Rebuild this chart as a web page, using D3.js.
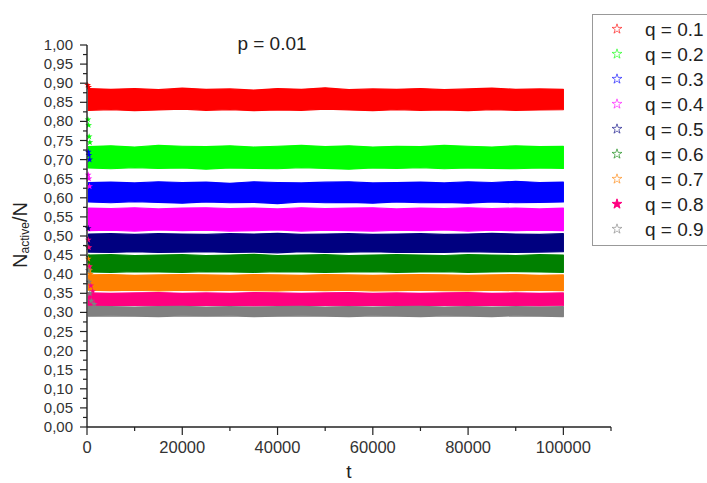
<!DOCTYPE html>
<html><head><meta charset="utf-8">
<script src="https://cdn.jsdelivr.net/npm/d3@7"></script>
<style>body{margin:0;background:#fff}svg{display:block;font-family:Arial,"Liberation Sans",sans-serif}</style>
</head><body>
<svg id="c" width="707" height="483"></svg>
<script>
const labels = ["q = 0.1","q = 0.2","q = 0.3","q = 0.4","q = 0.5","q = 0.6","q = 0.7","q = 0.8","q = 0.9"];
const colors = ["#ff0000","#00ff00","#0000ff","#ff00ff","#000080","#008000","#ff8000","#ff0080","#808080"];
const tSample = [300,5000,10000,15000,20000,25000,30000,35000,40000,45000,50000,55000,60000,65000,70000,75000,80000,85000,90000,95000,100000];
const upper01 = [0.886,0.884,0.886,0.883,0.887,0.884,0.885,0.882,0.886,0.884,0.888,0.883,0.885,0.884,0.886,0.883,0.885,0.887,0.884,0.885,0.884];
const lower01 = [0.829,0.831,0.828,0.830,0.832,0.829,0.831,0.828,0.830,0.829,0.832,0.830,0.828,0.831,0.829,0.830,0.828,0.831,0.829,0.830,0.831];
const upper02 = [0.734,0.736,0.733,0.737,0.735,0.734,0.736,0.733,0.735,0.737,0.734,0.736,0.733,0.735,0.734,0.737,0.735,0.733,0.736,0.734,0.735];
const lower02 = [0.678,0.676,0.679,0.677,0.678,0.675,0.678,0.677,0.676,0.679,0.677,0.675,0.678,0.677,0.679,0.676,0.678,0.677,0.676,0.678,0.677];
const upper03 = [0.640,0.641,0.639,0.642,0.640,0.641,0.638,0.642,0.640,0.639,0.641,0.642,0.639,0.640,0.641,0.639,0.642,0.640,0.643,0.640,0.641];
const lower03 = [0.589,0.587,0.590,0.588,0.586,0.589,0.587,0.588,0.585,0.589,0.587,0.588,0.586,0.589,0.587,0.588,0.586,0.589,0.587,0.588,0.589];
const upper04 = [0.573,0.572,0.574,0.571,0.573,0.574,0.572,0.573,0.571,0.574,0.572,0.573,0.574,0.571,0.573,0.572,0.574,0.572,0.573,0.571,0.573];
const lower04 = [0.514,0.515,0.513,0.516,0.514,0.515,0.513,0.514,0.516,0.513,0.515,0.514,0.513,0.515,0.514,0.516,0.513,0.515,0.514,0.515,0.514];
const upper05 = [0.505,0.506,0.504,0.506,0.505,0.504,0.506,0.505,0.507,0.504,0.505,0.506,0.504,0.505,0.506,0.504,0.505,0.507,0.505,0.504,0.506];
const lower05 = [0.458,0.457,0.459,0.457,0.458,0.459,0.457,0.458,0.456,0.459,0.457,0.458,0.459,0.457,0.458,0.457,0.459,0.458,0.457,0.458,0.459];
const upper06 = [0.450,0.451,0.449,0.450,0.451,0.449,0.450,0.452,0.449,0.450,0.451,0.449,0.450,0.451,0.450,0.449,0.451,0.450,0.449,0.451,0.450];
const lower06 = [0.406,0.405,0.407,0.406,0.405,0.407,0.406,0.405,0.407,0.406,0.405,0.406,0.407,0.405,0.406,0.407,0.405,0.406,0.407,0.406,0.405];
const upper07 = [0.398,0.399,0.397,0.398,0.399,0.398,0.397,0.399,0.398,0.397,0.399,0.398,0.397,0.398,0.399,0.398,0.397,0.398,0.399,0.397,0.398];
const lower07 = [0.358,0.357,0.358,0.356,0.358,0.357,0.358,0.357,0.356,0.358,0.357,0.358,0.356,0.357,0.358,0.357,0.356,0.358,0.357,0.358,0.357];
const upper08 = [0.351,0.350,0.351,0.352,0.350,0.351,0.350,0.352,0.351,0.350,0.351,0.352,0.350,0.351,0.350,0.351,0.352,0.350,0.351,0.350,0.351];
const lower08 = [0.318,0.319,0.318,0.317,0.319,0.318,0.319,0.317,0.318,0.319,0.318,0.317,0.319,0.318,0.319,0.318,0.317,0.319,0.318,0.317,0.318];
const upper09 = [0.316,0.315,0.314,0.315,0.316,0.314,0.315,0.314,0.315,0.316,0.314,0.315,0.314,0.315,0.316,0.314,0.315,0.314,0.315,0.314,0.315];
const lower09 = [0.290,0.291,0.290,0.289,0.291,0.290,0.291,0.289,0.290,0.291,0.290,0.289,0.291,0.290,0.289,0.291,0.290,0.289,0.291,0.290,0.289];
// early transient points [t, value]
const early01 = [[150,0.895],[350,0.890]];
const early02 = [[200,0.805],[350,0.790],[450,0.760],[600,0.745]];
const early03 = [[250,0.720],[400,0.712],[550,0.700]];
const early04 = [[250,0.660],[400,0.650],[550,0.630],[700,0.560]];
const early05 = [[250,0.520],[400,0.495],[600,0.485]];
const early06 = [[250,0.470],[400,0.445],[600,0.430]];
const early07 = [[250,0.440],[400,0.420],[550,0.410],[700,0.400]];
const early08 = [[250,0.490],[400,0.470],[550,0.420],[800,0.370],[1200,0.355]];
const early09 = [[250,0.410],[400,0.380],[600,0.350],[900,0.330],[1500,0.322]];
const yTicks = [0,0.05,0.10,0.15,0.20,0.25,0.30,0.35,0.40,0.45,0.50,0.55,0.60,0.65,0.70,0.75,0.80,0.85,0.90,0.95,1.00];
const xTicks = [0,20000,40000,60000,80000,100000];

const uppers=[upper01,upper02,upper03,upper04,upper05,upper06,upper07,upper08,upper09];
const lowers=[lower01,lower02,lower03,lower04,lower05,lower06,lower07,lower08,lower09];
const earlies=[early01,early02,early03,early04,early05,early06,early07,early08,early09];

const svg=d3.select("#c");
const x=d3.scaleLinear().domain([0,110000]).range([87,611]);
const y=d3.scaleLinear().domain([0,1]).range([427,45]);

// bands
const area=d3.area().x((d,i)=>x(tSample[i])).y0((d,i)=>y(d[0])).y1((d,i)=>y(d[1])).curve(d3.curveLinear);
labels.forEach((l,k)=>{
  const data=tSample.map((t,i)=>[lowers[k][i],uppers[k][i]]);
  svg.append("path").attr("d",area(data)).attr("fill",colors[k]).attr("stroke",colors[k])
    .attr("stroke-width",1.2).attr("stroke-linejoin","round");
});
const star=d3.symbol().type(d3.symbolStar);
labels.forEach((l,k)=>{
  svg.selectAll(null).data(earlies[k]).join("path")
    .attr("d",star.size(14)).attr("transform",d=>`translate(${x(d[0])},${y(d[1])})`)
    .attr("fill",colors[k]);
});

// axes
const ax=svg.append("g").attr("stroke","#222").attr("fill","none");
ax.append("line").attr("x1",x(0)).attr("x2",x(0)).attr("y1",y(1)).attr("y2",y(0)).attr("stroke-width",1.4);
ax.append("line").attr("x1",x(0)).attr("x2",x(110000)).attr("y1",y(0)).attr("y2",y(0)).attr("stroke-width",1.4);
yTicks.forEach(v=>{
  ax.append("line").attr("x1",x(0)-7).attr("x2",x(0)).attr("y1",y(v)).attr("y2",y(v)).attr("stroke-width",1.2);
  if(v<1) ax.append("line").attr("x1",x(0)-4).attr("x2",x(0)).attr("y1",y(v+0.025)).attr("y2",y(v+0.025)).attr("stroke-width",1.2);
});
d3.range(0,110001,10000).forEach(v=>{
  const major=xTicks.includes(v);
  ax.append("line").attr("x1",x(v)).attr("x2",x(v)).attr("y1",y(0)).attr("y2",y(0)+(major?8:4)).attr("stroke-width",1.2);
});
svg.selectAll(".yl").data(yTicks).join("text").attr("x",x(0)-14).attr("y",d=>y(d)+5)
  .attr("text-anchor","end").attr("font-size",15).attr("fill","#333")
  .text(d=>d3.format(".2f")(d).replace(".",","));
svg.selectAll(".xl").data(xTicks).join("text").attr("x",d=>x(d)).attr("y",453)
  .attr("text-anchor","middle").attr("font-size",16.5).attr("fill","#333").text(d=>d);

svg.append("text").attr("x",349).attr("y",478).attr("text-anchor","middle").attr("font-size",19).attr("fill","#222").text("t");
const yl=svg.append("text").attr("transform","translate(27,235) rotate(-90)").attr("text-anchor","middle").attr("font-size",20).attr("fill","#222");
yl.append("tspan").text("N");
yl.append("tspan").attr("font-size",12).attr("dy",2).text("active");
yl.append("tspan").attr("dy",-2).text("/N");
svg.append("text").attr("x",272).attr("y",50).attr("text-anchor","middle").attr("font-size",19).attr("fill","#222").text("p = 0.01");

// legend
svg.append("rect").attr("x",592.5).attr("y",14.5).attr("width",130).attr("height",231).attr("fill","#fff").attr("stroke","#999");
labels.forEach((l,k)=>{
  const yy=29+k*25;
  svg.append("path").attr("d",star.size(30)()).attr("transform",`translate(617,${yy})`)
    .attr("fill",k===7?colors[k]:"none").attr("stroke",colors[k]).attr("stroke-width",1).attr("opacity",k===7?1:0.6);
  svg.append("text").attr("x",645).attr("y",yy+7).attr("font-size",19).attr("fill","#222").text(l);
});
</script>
</body></html>
